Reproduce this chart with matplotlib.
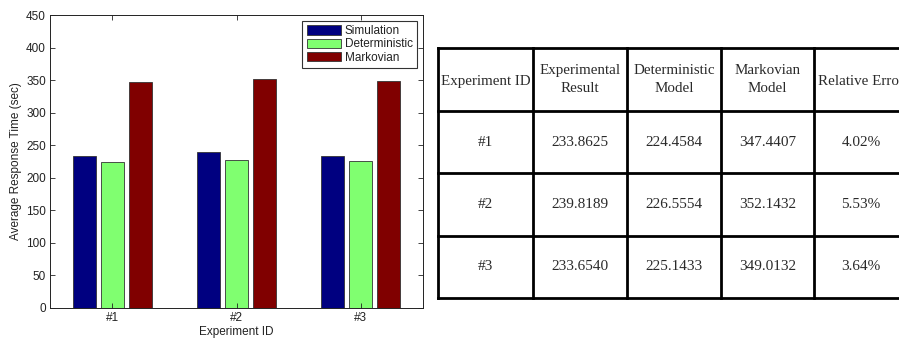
import matplotlib
matplotlib.use("Agg")
import matplotlib.pyplot as plt
import numpy as np

# Data
experiments = ["#1", "#2", "#3"]
series_names = ["Simulation", "Deterministic", "Markovian"]
simulation = [233.8625, 239.8189, 233.6540]
deterministic = [224.4584, 226.5554, 225.1433]
markovian = [347.4407, 352.1432, 349.0132]
relative_error = ["4.02%", "5.53%", "3.64%"]
table_header = ["Experiment ID", "Experimental\nResult", "Deterministic\nModel",
                "Markovian\nModel", "Relative Error"]
colors = ["#000080", "#80ff70", "#800000"]

plt.rcParams["font.family"] = ["Liberation Sans", "DejaVu Sans"]

fig = plt.figure(figsize=(8.99, 3.38), dpi=100)

# ---- bar chart ----
ax = fig.add_axes([50 / 899, 30 / 338, 373 / 899, 293 / 338])
x = np.arange(1, len(experiments) + 1)
offset = 0.226
width = 0.185
for i, (vals, name, c) in enumerate(zip([simulation, deterministic, markovian],
                                        series_names, colors)):
    ax.bar(x + (i - 1) * offset, vals, width, color=c, edgecolor="#333333",
           linewidth=0.6, label=name)
ax.set_xlim(0.5, 3.5)
ax.set_ylim(0, 450)
ax.set_yticks(np.arange(0, 451, 50))
ax.set_xticks(x)
ax.set_xticklabels(experiments)
ax.tick_params(direction="in", top=True, right=True, labelsize=8.5, length=3.5,
               width=0.6, pad=3, colors="#222222")
for s in ax.spines.values():
    s.set_linewidth(0.7)
    s.set_color("#222222")
ax.set_ylabel("Average Response Time (sec)", fontsize=8.5, labelpad=3,
              color="#222222")
ax.set_xlabel("Experiment ID", fontsize=8.5, labelpad=1, color="#222222")
leg = ax.legend(loc="upper right", fontsize=8.5, frameon=True, fancybox=False,
                edgecolor="black", handlelength=2.9, handleheight=0.85,
                borderpad=0.35, labelspacing=0.12, handletextpad=0.35,
                borderaxespad=0.5)
leg.get_frame().set_linewidth(0.8)
for t in leg.get_texts():
    t.set_color("#222222")

# ---- table ----
tax = fig.add_axes([438 / 899, 40 / 338, 470 / 899, 250 / 338])
tax.set_xlim(0, 470)
tax.set_ylim(250, 0)
tax.axis("off")
col_edges = [0, 95, 189, 283, 376, 470]
row_edges = [0, 63, 125, 188, 250]
lw = 2.0
for cx in col_edges:
    tax.plot([cx, cx], [0, 250], color="black", lw=lw, solid_capstyle="projecting",
             clip_on=False)
for ry in row_edges:
    tax.plot([0, 470], [ry, ry], color="black", lw=lw, solid_capstyle="projecting",
             clip_on=False)

serif = ["Liberation Serif", "DejaVu Serif"]
rows = [[experiments[k], f"{simulation[k]:.4f}", f"{deterministic[k]:.4f}",
         f"{markovian[k]:.4f}", relative_error[k]] for k in range(3)]
for j, h in enumerate(table_header):
    cx = (col_edges[j] + col_edges[j + 1]) / 2
    dy = 0 if "\n" in h else 2
    tax.text(cx, (row_edges[0] + row_edges[1]) / 2 + dy, h, ha="center",
             va="center", family=serif, fontsize=10.8, color="#2a2a2a",
             linespacing=1.55, clip_on=False)
for r, row in enumerate(rows):
    cy = (row_edges[r + 1] + row_edges[r + 2]) / 2
    for j, val in enumerate(row):
        cx = (col_edges[j] + col_edges[j + 1]) / 2
        tax.text(cx, cy, val, ha="center", va="center", family=serif,
                 fontsize=11, color="#2a2a2a", clip_on=False)

fig.savefig("out.png", dpi=100)
